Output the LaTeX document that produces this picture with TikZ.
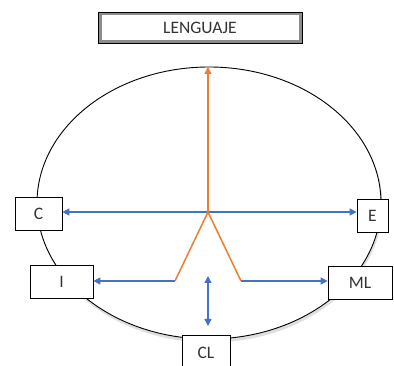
\documentclass[tikz,border=0pt]{standalone}
\usepackage{fontspec}
\setmainfont{Carlito}
\usetikzlibrary{arrows.meta,shadows}
\definecolor{bl}{HTML}{4472C4}
\definecolor{orn}{HTML}{ED7D31}
\tikzset{
  lbl/.style={draw=black, line width=0.7pt, fill=white, minimum height=33pt, inner sep=0pt, font=\fontsize{17.5}{20}\selectfont, text=black!80,
     drop shadow={shadow xshift=1pt, shadow yshift=-1pt, opacity=0.3}},
  barrow/.style={draw=bl, line width=1.3pt, -{Triangle[length=7pt,width=7pt]}},
  oline/.style={draw=orn, line width=1.5pt}
}
\begin{document}
\begin{tikzpicture}[x=1pt,y=-1pt]
\useasboundingbox (0,0) rectangle (394,366);
% ellipse
\fill[black!25, opacity=0.5] (210,205) ellipse [x radius=172.5, y radius=137.5];
\draw[line width=0.9pt, fill=white] (209,203) ellipse [x radius=172, y radius=136];
% title box
\node[draw=black!45, line width=3pt, minimum width=200pt, minimum height=28pt, inner sep=0pt, font=\fontsize{17.5}{20}\selectfont, text=black!80] (lang) at (200,27.5) {LENGUAJE};
\draw[line width=0.8pt] (98,12) rectangle (302,43);
% nodes
\node[lbl, minimum width=47pt] (c) at (38.5,213.5) {C};
\node[lbl, minimum width=63pt] (i) at (61.5,282) {I};
\node[lbl, minimum width=31pt] (e) at (372.5,215.5) {E};
\node[lbl, minimum width=64pt] (ml) at (360,283) {ML};
\node[lbl, minimum width=48pt, minimum height=36pt] (cl) at (206,353) {CL};
% center coordinates
\coordinate (o) at (208,212);
\coordinate (top) at (208,67);
\coordinate (lf) at (175,281);
\coordinate (rf) at (241,281);
\coordinate (vt) at (208,276);
\coordinate (vb) at (208,326);
% arrows
\draw[barrow] (o) -- (c.east |- o);
\draw[barrow] (o) -- (e.west |- o);
\draw[barrow] (lf) -- (i.east |- lf);
\draw[barrow] (rf) -- (ml.west |- rf);
\draw[draw=bl, line width=1.3pt, {Triangle[length=7pt,width=7pt]}-{Triangle[length=7pt,width=7pt]}] (vt) -- (vb);
\draw[oline] (lf) -- (o) -- (rf);
\draw[oline, -{Triangle[length=7pt,width=7pt]}] (o) -- (top);
\end{tikzpicture}
\end{document}
